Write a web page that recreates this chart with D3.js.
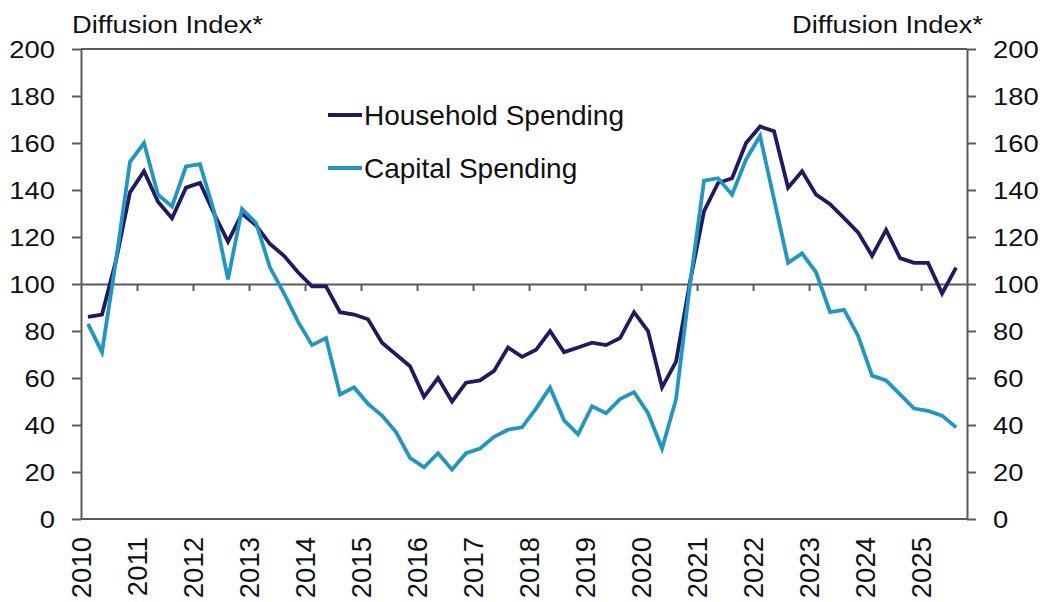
<!DOCTYPE html>
<html>
<head>
<meta charset="utf-8">
<script src="https://cdn.jsdelivr.net/npm/d3@7"></script>
<style>
  body { margin: 0; background: #fff; }
  svg { display: block; font-family: "Liberation Sans", Arial, sans-serif; }
</style>
</head>
<body>
<svg width="1046" height="602"></svg>
<script>
// quarterly observations
const quarters = [
  "2010Q1","2010Q2","2010Q3","2010Q4","2011Q1","2011Q2","2011Q3","2011Q4",
  "2012Q1","2012Q2","2012Q3","2012Q4","2013Q1","2013Q2","2013Q3","2013Q4",
  "2014Q1","2014Q2","2014Q3","2014Q4","2015Q1","2015Q2","2015Q3","2015Q4",
  "2016Q1","2016Q2","2016Q3","2016Q4","2017Q1","2017Q2","2017Q3","2017Q4",
  "2018Q1","2018Q2","2018Q3","2018Q4","2019Q1","2019Q2","2019Q3","2019Q4",
  "2020Q1","2020Q2","2020Q3","2020Q4","2021Q1","2021Q2","2021Q3","2021Q4",
  "2022Q1","2022Q2","2022Q3","2022Q4","2023Q1","2023Q2","2023Q3","2023Q4",
  "2024Q1","2024Q2","2024Q3","2024Q4","2025Q1","2025Q2","2025Q3"
];

const household = [
  86, 87, 110, 139, 148, 135, 128, 141, 143, 130,
  118, 130, 125, 117, 112, 105, 99, 99, 88, 87,
  85, 75, 70, 65, 52, 60, 50, 58, 59, 63,
  73, 69, 72, 80, 71, 73, 75, 74, 77, 88,
  80, 56, 67, 101, 131, 143, 145, 160, 167, 165,
  141, 148, 138, 134, 128, 122, 112, 123, 111, 109,
  109, 96, 107
];

const capital = [
  83, 71, 110, 152, 160, 138, 133, 150, 151, 131,
  102, 132, 126, 107, 96, 84, 74, 77, 53, 56,
  49, 44, 37, 26, 22, 28, 21, 28, 30, 35,
  38, 39, 47, 56, 42, 36, 48, 45, 51, 54,
  45, 30, 51, 100, 144, 145, 138, 153, 163, 136,
  109, 113, 105, 88, 89, 78, 61, 59, 53, 47,
  46, 44, 39
];

const yearLabels = ["2010","2011","2012","2013","2014","2015","2016","2017",
  "2018","2019","2020","2021","2022","2023","2024","2025"];
const yTicks = [0, 20, 40, 60, 80, 100, 120, 140, 160, 180, 200];

const seriesNames = ["Household Spending", "Capital Spending"];
const seriesColors = ["#211a63", "#1e97c3"];

// quarter string -> decimal year (mid-quarter-ish)
function qToYear(q) {
    const yr = +q.slice(0, 4);
    const qq = +q.slice(5);
    return yr + (qq - 1) / 4 + 0.125;
}

const svg = d3.select("svg");
const plotL = 81, plotR = 967, plotT = 49, plotB = 519;
const axisCol = "#5a5a5a";
const stretch = 1.14;

const x = d3.scaleLinear().domain([2010, 2025.82]).range([plotL, plotR]);
const y = d3.scaleLinear().domain([0, 200]).range([plotB, plotT]);

// frame lines top and bottom
svg.append("line").attr("x1", plotL).attr("x2", plotR).attr("y1", y(200)).attr("y2", y(200))
    .attr("stroke", axisCol).attr("stroke-width", 2);
svg.append("line").attr("x1", plotL).attr("x2", plotR).attr("y1", y(0)).attr("y2", y(0))
    .attr("stroke", axisCol).attr("stroke-width", 2);

// left axis
const gl = svg.append("g").attr("transform", "translate(" + plotL + ",0)")
    .call(d3.axisLeft(y).tickValues(yTicks).tickSize(9).tickSizeOuter(0));
// right axis
const gr = svg.append("g").attr("transform", "translate(" + plotR + ",0)")
    .call(d3.axisRight(y).tickValues(yTicks).tickSize(9).tickSizeOuter(0));

[gl, gr].forEach(function(g) {
    g.select(".domain").attr("stroke", axisCol).attr("stroke-width", 2);
    g.selectAll(".tick line").attr("stroke", axisCol).attr("stroke-width", 2);
    g.selectAll(".tick text").attr("font-size", 24).attr("fill", "#111")
        .attr("font-family", "Liberation Sans, Arial, sans-serif");
});
gl.selectAll(".tick text").attr("x", 0).attr("dy", "0.36em")
    .attr("transform", "translate(-26,0) scale(" + stretch + ",1)");
gr.selectAll(".tick text").attr("x", 0).attr("dy", "0.36em")
    .attr("transform", "translate(26,0) scale(" + stretch + ",1)");

// the 100 line with year ticks
const yearTicks = yearLabels.slice(1).map(Number);
const gm = svg.append("g").attr("transform", "translate(0," + y(100) + ")")
    .call(d3.axisBottom(x).tickValues(yearTicks).tickSize(7).tickSizeOuter(0).tickFormat(""));
gm.select(".domain").attr("stroke", axisCol).attr("stroke-width", 2);
gm.selectAll(".tick line").attr("stroke", axisCol).attr("stroke-width", 2);

// rotated year labels below the chart
svg.append("g").selectAll("text")
    .data(yearLabels)
    .enter().append("text")
    .attr("transform", function(d) {
        return "translate(" + x(+d) + ",537) rotate(-90)";
    })
    .attr("text-anchor", "end")
    .attr("dy", "0.36em")
    .attr("font-size", 27.5)
    .attr("fill", "#111")
    .text(function(d) { return d; });

// axis titles
svg.append("text")
    .attr("transform", "translate(72,33) scale(" + stretch + ",1)")
    .attr("font-size", 24).attr("fill", "#111")
    .text("Diffusion Index*");
svg.append("text")
    .attr("transform", "translate(983,33) scale(" + stretch + ",1)")
    .attr("text-anchor", "end")
    .attr("font-size", 24).attr("fill", "#111")
    .text("Diffusion Index*");

// lines
const allSeries = [household, capital];
const line = d3.line()
    .x(function(d, i) { return x(qToYear(quarters[i])); })
    .y(function(d) { return y(d); });

svg.append("g").selectAll("path")
    .data(allSeries)
    .enter().append("path")
    .attr("d", line)
    .attr("fill", "none")
    .attr("stroke", function(d, i) { return seriesColors[i]; })
    .attr("stroke-width", 3.8)
    .attr("stroke-linejoin", "miter");

// legend
const legendY = [115, 168];
const lg = svg.append("g").selectAll("g")
    .data(seriesNames)
    .enter().append("g")
    .attr("transform", function(d, i) { return "translate(328," + legendY[i] + ")"; });
lg.append("line")
    .attr("x1", 0).attr("x2", 34).attr("y1", 0).attr("y2", 0)
    .attr("stroke", function(d, i) { return seriesColors[i]; })
    .attr("stroke-width", 3.8);
lg.append("text")
    .attr("x", 36).attr("y", 9.5)
    .attr("font-size", 28).attr("fill", "#111")
    .text(function(d) { return d; });
</script>
</body>
</html>
